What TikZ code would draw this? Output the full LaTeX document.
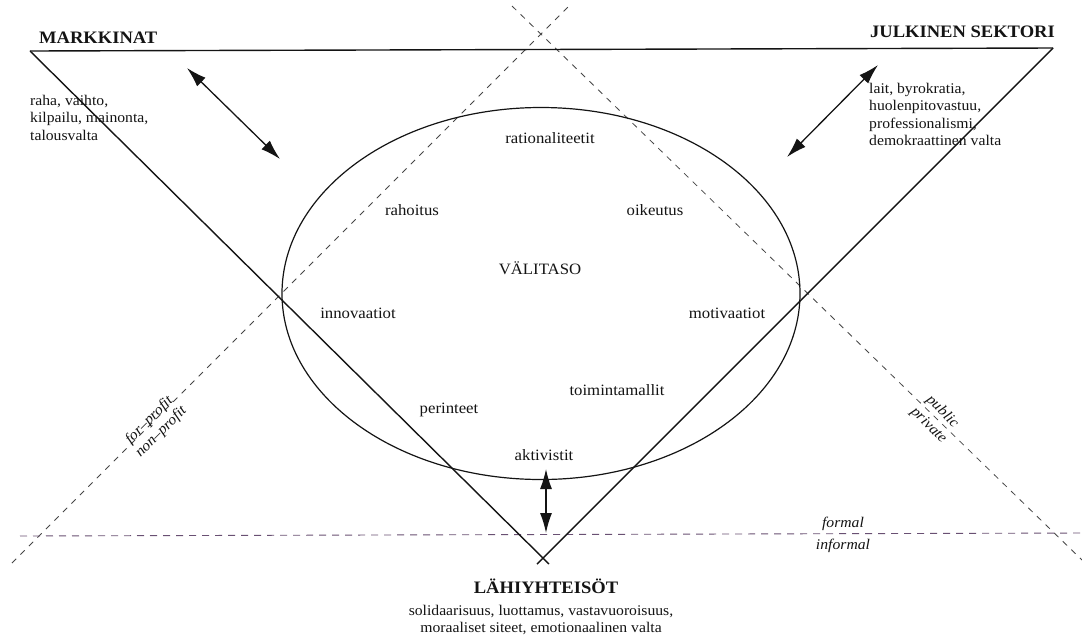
\documentclass[tikz,border=0pt]{standalone}
\usepackage{fontspec}
\setmainfont{Liberation Serif}[FakeStretch=1.06]
\usetikzlibrary{arrows.meta,shapes.geometric}
\definecolor{inkc}{RGB}{20,20,20}
\definecolor{dashc}{RGB}{70,70,70}
\definecolor{formc}{RGB}{105,80,115}
\begin{document}
\begin{tikzpicture}[x=1pt,y=-1pt,
  tri/.style={line width=1.4pt, inkc},
  midshape/.style={draw=inkc, line width=1.2pt, ellipse, inner sep=0pt,
    minimum width=518pt, minimum height=372pt},
  divider/.style={line width=0.8pt, dashc, dash pattern=on 6pt off 6pt},
  formline/.style={line width=0.9pt, formc, dash pattern=on 7pt off 6pt},
  dblarrow/.style={line width=1.3pt, inkc,
    {Latex[length=20pt,width=12pt]}-{Latex[length=20pt,width=12pt]}},
  head/.style={font=\fontsize{17.5}{21}\selectfont\bfseries, inner sep=0pt, text=inkc},
  corner/.style={font=\fontsize{14.8}{17.5}\selectfont, inner sep=0pt, align=left, text=inkc},
  inlabel/.style={font=\fontsize{15.8}{18}\selectfont, inner sep=0pt, text=inkc},
  itlabel/.style={font=\fontsize{14.8}{17}\selectfont\itshape, text=inkc},
]
\useasboundingbox (0,0) rectangle (1082,641);
\fill[white] (0,0) rectangle (1082,641);

% vertices of the triangle
\coordinate (M) at (30,51);
\coordinate (J) at (1053,48);
\coordinate (Lx) at (543,558);
\coordinate (Lend1) at (549,564);
\coordinate (Lend2) at (537,564);

% dashed dividers
\coordinate (pa1) at (12,563);
\coordinate (pa2) at (572,3);
\coordinate (pb1) at (512,6);
\coordinate (pb2) at (1082,560);
\coordinate (fl1) at (20,536);
\coordinate (fl2) at (1082,533);

\draw[divider] (pa1) -- (pa2);
\draw[divider] (pb1) -- (pb2);
\draw[formline] (fl1) -- (fl2);

% triangle
\draw[tri] (M) -- (J);
\draw[tri] (M) -- (Lend1);
\draw[tri] (J) -- (Lend2);

% middle level
\node[midshape] (mid) at (541,293.5) {};

% arrows
\coordinate (la1) at (187,68);
\coordinate (la2) at (280,159);
\coordinate (ra1) at (878,65);
\coordinate (ra2) at (787,157);
\coordinate (va1) at (546,469);
\coordinate (va2) at (546,533);
\draw[dblarrow] (la1) -- (la2);
\draw[dblarrow] (ra1) -- (ra2);
\draw[dblarrow] (va1) -- (va2);

% headings
\node[head, anchor=base west] (mk) at (39,43) {MARKKINAT};
\node[head, anchor=base east] (js) at (1055,37) {JULKINEN SEKTORI};
\node[head, anchor=base] (lh) at (546,593) {LÄHIYHTEISÖT};

% corner texts
\node[corner, anchor=north west] (mkt) at (30,95) {raha, vaihto,\\kilpailu, mainonta,\\talousvalta};
\node[corner, anchor=north west] (jst) at (869,83) {lait, byrokratia,\\huolenpitovastuu,\\professionalismi,\\demokraattinen valta};
\node[corner, align=center, anchor=north] (lht) at (541,605) {solidaarisuus, luottamus, vastavuoroisuus,\\moraaliset siteet, emotionaalinen valta};

% inner labels
\node[inlabel] (rat) at (550,138) {rationaliteetit};
\node[inlabel] (rah) at (412,210) {rahoitus};
\node[inlabel] (oik) at (655,210) {oikeutus};
\node[inlabel] (val) at (540,268) {VÄLITASO};
\node[inlabel] (inn) at (358,313) {innovaatiot};
\node[inlabel] (mot) at (727,313) {motivaatiot};
\node[inlabel] (toi) at (617,390) {toimintamallit};
\node[inlabel] (per) at (449,410) {perinteet};
\node[inlabel] (akt) at (544,455) {aktivistit};

% divider labels
\coordinate (fp) at (152,423);
\node[itlabel, rotate=45, anchor=base, inner sep=1pt] (forp) at (fp) {for–profit};
\node[itlabel, rotate=45, anchor=north, inner sep=6pt] (nonp) at (fp) {non–profit};
\coordinate (pp) at (936,418);
\node[itlabel, rotate=-45, anchor=south, inner sep=2pt] (pub) at (pp) {public};
\node[itlabel, rotate=-45, anchor=north, inner sep=4pt] (pri) at (pp) {private};
\node[itlabel, anchor=south, inner sep=2pt] (frm) at (843,533) {formal};
\node[itlabel, anchor=north, inner sep=3pt] (inf) at (843,536) {informal};
\end{tikzpicture}
\end{document}
